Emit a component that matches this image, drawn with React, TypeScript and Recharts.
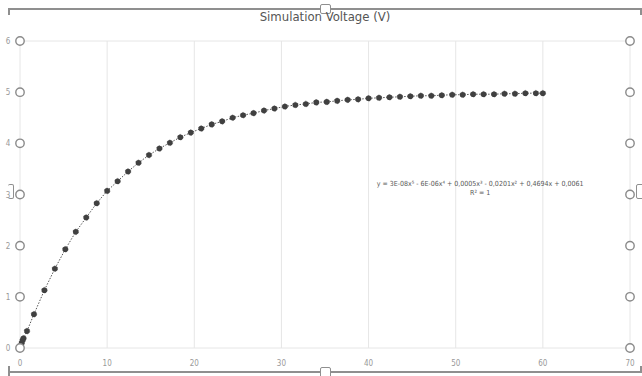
import React from 'react'
import { LineChart, Line, XAxis, YAxis, CartesianGrid, ReferenceDot } from 'recharts'

// Tempo (s) e tensão simulada (V)
const tempo = [
  0, 0.1, 0.2, 0.3, 0.4, 0.8, 1.6, 2.8, 4.0, 5.2, 6.4, 7.6, 8.8, 10.0, 11.2, 12.4, 13.6, 14.8,
  16.0, 17.2, 18.4, 19.6, 20.8, 22.0, 23.2, 24.4, 25.6, 26.8, 28.0, 29.2, 30.4, 31.6, 32.8,
  34.0, 35.2, 36.4, 37.6, 38.8, 40.0, 41.2, 42.4, 43.6, 44.8, 46.0, 47.2, 48.4, 49.6, 50.8,
  52.0, 53.2, 54.4, 55.6, 56.8, 58.0, 59.2, 60.0,
]
const tensao = [
  0, 0.05, 0.1, 0.15, 0.19, 0.33, 0.66, 1.13, 1.55, 1.93, 2.27, 2.55, 2.83, 3.07, 3.26, 3.45, 3.62, 3.77,
  3.90, 4.01, 4.12, 4.21, 4.29, 4.37, 4.43, 4.50, 4.55, 4.59, 4.64, 4.68, 4.72, 4.75, 4.77,
  4.80, 4.81, 4.83, 4.85, 4.86, 4.88, 4.89, 4.90, 4.91, 4.92, 4.93, 4.93, 4.94, 4.95, 4.95,
  4.96, 4.96, 4.96, 4.97, 4.97, 4.98, 4.98, 4.98,
]
const xTicks = [0, 10, 20, 30, 40, 50, 60, 70]
const yTicks = [0, 1, 2, 3, 4, 5, 6]

const titulo = 'Simulation Voltage (V)'
const equacao = 'y = 3E-08x\u2075 - 6E-06x\u2074 + 0,0005x\u00b3 - 0,0201x\u00b2 + 0,4694x + 0,0061'
const r2 = 'R\u00b2 = 1'

const rows = tempo.map((t, i) => ({ t, v: tensao[i] }))

const FONT = '"Liberation Sans Narrow", "DejaVu Sans Condensed", Roboto, sans-serif'

// eslint-disable-next-line @typescript-eslint/no-explicit-any
function leftTick({ x, y, payload }: any) {
  return (
    <g key={`l-${payload.value}`}>
      <text x={x - 12} y={y} dy={3} textAnchor="middle" fontSize={8} fill="#999" fontFamily={FONT}>
        {payload.value}
      </text>
      <circle cx={x} cy={y} r={4.2} fill="#fff" stroke="#8a8a8a" strokeWidth={1.4} />
    </g>
  )
}

// eslint-disable-next-line @typescript-eslint/no-explicit-any
function rightTick({ x, y, payload }: any) {
  return (
    <g key={`r-${payload.value}`}>
      <circle cx={x} cy={y} r={4.2} fill="#fff" stroke="#8a8a8a" strokeWidth={1.4} />
    </g>
  )
}

const frame = '#8f8f8f'

export default function App() {
  return (
    <div style={{ position: 'absolute', left: 0, top: 0, width: 642, height: 376, background: '#fff', overflow: 'hidden', fontFamily: FONT }}>
      {/* moldura de seleção do gráfico */}
      <div style={{ position: 'absolute', left: 8, top: 8, width: 633, height: 1.5, background: frame }} />
      <div style={{ position: 'absolute', left: 8, top: 371, width: 633, height: 1.5, background: frame }} />
      <div style={{ position: 'absolute', left: 8, top: 8, width: 1.5, height: 7, background: frame }} />
      <div style={{ position: 'absolute', left: 8, top: 366, width: 1.5, height: 10, background: frame }} />
      <div style={{ position: 'absolute', left: 640, top: 8, width: 1.5, height: 7, background: frame }} />
      <div style={{ position: 'absolute', left: 640, top: 366, width: 1.5, height: 7, background: frame }} />
      <div style={{ position: 'absolute', left: 320, top: 4, width: 9, height: 8, border: `1px solid ${frame}`, borderRadius: 2, background: '#fff' }} />
      <div style={{ position: 'absolute', left: 320, top: 367, width: 9, height: 9, border: `1px solid ${frame}`, borderRadius: 2, background: '#fff' }} />
      <div style={{ position: 'absolute', left: 8, top: 184, width: 5, height: 13, border: `1px solid ${frame}`, borderLeft: 'none', borderRadius: 2, background: '#fff' }} />
      <div style={{ position: 'absolute', left: 636, top: 184, width: 6, height: 13, border: `1px solid ${frame}`, borderRadius: 2, background: '#fff' }} />

      <div style={{ position: 'absolute', left: 0, top: 9, width: 650, textAlign: 'center', fontSize: 13, color: '#555' }}>
        {titulo}
      </div>

      <div style={{ position: 'absolute', left: 0, top: 0 }}>
        <LineChart width={642} height={376} data={rows} margin={{ top: 41, right: 11, left: 19, bottom: 0 }}>
          <CartesianGrid stroke="#e6e6e6" strokeWidth={1} />
          <XAxis
            dataKey="t"
            type="number"
            domain={[0, 70]}
            ticks={xTicks}
            axisLine={false}
            tickLine={false}
            tick={{ fontSize: 8, fill: '#999', fontFamily: FONT }}
            tickMargin={6}
            height={28}
          />
          <YAxis
            yAxisId="l"
            type="number"
            domain={[0, 6]}
            ticks={yTicks}
            axisLine={false}
            tickLine={false}
            tickSize={0}
            tickMargin={0}
            width={1}
            tick={leftTick}
          />
          <YAxis
            yAxisId="r"
            orientation="right"
            type="number"
            domain={[0, 6]}
            ticks={yTicks}
            axisLine={false}
            tickLine={false}
            tickSize={0}
            tickMargin={0}
            width={1}
            tick={rightTick}
          />
          {/* série invisível só para ativar o eixo da direita */}
          <Line
            yAxisId="r"
            type="linear"
            dataKey="v"
            stroke="none"
            dot={false}
            activeDot={false}
            isAnimationActive={false}
          />
          <Line
            yAxisId="l"
            type="linear"
            dataKey="v"
            stroke="#555"
            strokeWidth={1}
            strokeDasharray="1.5 1.5"
            dot={{ r: 2.8, fill: '#404040', stroke: '#404040', strokeWidth: 0.5 }}
            isAnimationActive={false}
          />
          <ReferenceDot
            yAxisId="l"
            x={52.8}
            y={3.22}
            r={0}
            label={{ value: equacao, position: 'center', fontSize: 7, fill: '#595959', fontFamily: FONT }}
          />
          <ReferenceDot
            yAxisId="l"
            x={52.8}
            y={3.03}
            r={0}
            label={{ value: r2, position: 'center', fontSize: 7, fill: '#595959', fontFamily: FONT }}
          />
        </LineChart>
      </div>
    </div>
  )
}
